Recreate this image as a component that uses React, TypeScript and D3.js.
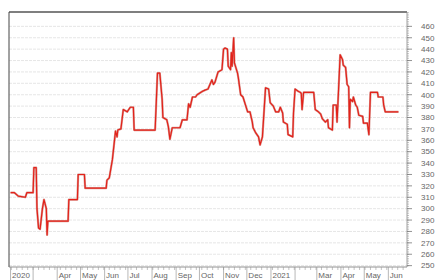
import React from "react";
import * as d3 from "d3";

const dates: string[] = [
  "2020-02-01","2020-02-06","2020-02-11","2020-02-20","2020-02-22","2020-03-01","2020-03-02","2020-03-05","2020-03-06","2020-03-08",
  "2020-03-10","2020-03-13","2020-03-15","2020-03-18","2020-03-19","2020-03-20","2020-04-15","2020-04-16","2020-04-27","2020-04-28",
  "2020-05-06","2020-05-07","2020-06-03","2020-06-04","2020-06-07","2020-06-11","2020-06-15","2020-06-17","2020-06-18","2020-06-22",
  "2020-06-25","2020-06-30","2020-07-04","2020-07-08","2020-07-09","2020-08-05","2020-08-08","2020-08-11","2020-08-14","2020-08-15",
  "2020-08-20","2020-08-22","2020-08-24","2020-08-27","2020-09-06","2020-09-09","2020-09-15","2020-09-17","2020-09-19","2020-09-22",
  "2020-09-26","2020-09-28","2020-10-05","2020-10-08","2020-10-12","2020-10-17","2020-10-19","2020-10-21","2020-10-25","2020-10-30",
  "2020-11-01","2020-11-03","2020-11-06","2020-11-07","2020-11-10","2020-11-11","2020-11-12","2020-11-14","2020-11-15","2020-11-19",
  "2020-11-20","2020-11-23","2020-11-26","2020-12-02","2020-12-05","2020-12-08","2020-12-09","2020-12-12","2020-12-16","2020-12-18",
  "2020-12-21","2020-12-25","2020-12-29","2020-12-31","2021-01-04","2021-01-07","2021-01-11","2021-01-13","2021-01-16","2021-01-17",
  "2021-01-22","2021-01-23","2021-01-29","2021-01-30","2021-02-01","2021-02-05","2021-02-08","2021-02-09","2021-02-10","2021-02-12",
  "2021-02-25","2021-02-27","2021-03-03","2021-03-06","2021-03-08","2021-03-12","2021-03-15","2021-03-16","2021-03-21","2021-03-22",
  "2021-03-26","2021-03-27","2021-03-29","2021-03-31","2021-04-03","2021-04-04","2021-04-07","2021-04-09","2021-04-11","2021-04-12",
  "2021-04-13","2021-04-16","2021-04-17","2021-04-20","2021-04-22","2021-04-24","2021-04-29","2021-04-30","2021-05-05","2021-05-07",
  "2021-05-09","2021-05-18","2021-05-19","2021-05-25","2021-05-26","2021-05-28","2021-06-14"
];

const values: number[] = [
  314,314,311,310,314,314,336,336,300,283,
  282,300,308,300,277,289,289,308,308,330,
  330,318,318,325,327,343,368,363,369,370,
  387,385,389,389,369,369,419,419,396,380,
  378,372,361,371,371,378,378,392,389,398,
  398,400,403,404,405,413,409,411,420,422,
  440,441,440,425,422,437,425,450,428,419,
  415,400,398,385,385,376,371,367,363,356,
  363,406,405,393,390,385,385,389,384,376,
  374,365,363,384,405,403,402,401,387,402,
  402,387,385,383,379,376,378,371,369,391,
  391,376,405,435,431,426,424,409,407,371,
  396,394,398,391,389,382,381,375,375,365,
  402,402,398,398,391,385,385
];

const monthTicks: string[] = [
  "2020-02-01","2020-03-01","2020-04-01","2020-05-01","2020-06-01","2020-07-01","2020-08-01","2020-09-01",
  "2020-10-01","2020-11-01","2020-12-01","2021-01-01","2021-02-01","2021-03-01","2021-04-01","2021-05-01","2021-06-01"
];
const monthLabels: string[] = [
  "2020","","Apr","May","Jun","Jul","Aug","Sep","Oct","Nov","Dec","2021","","Mar","Apr","May","Jun"
];
const yTicks: number[] = d3.range(250, 461, 10);

const W = 435, H = 280;
const L = 9, R = 407, T = 12, B = 267;

export default function App() {
  const parse = d3.timeParse("%Y-%m-%d");
  const x = d3.scaleTime()
    .domain([parse("2020-01-30")!, parse("2021-06-25")!])
    .range([L, R]);
  const y = d3.scaleLinear().domain([248.8, 472.6]).range([B, T]);
  const pts = dates.map((d, i) => [parse(d)!, values[i]] as [Date, number]);
  const line = d3.line<[Date, number]>().x(d => x(d[0])).y(d => y(d[1]));
  const weekTicks = d3.timeWeek.range(x.domain()[0], x.domain()[1]);
  const minorY = d3.range(250, 473, 2);
  const font = "'Liberation Sans', Arial, sans-serif";

  return (
    <svg width={W} height={H} style={{ position: "absolute", left: 0, top: 0, background: "#fff" }}>
      <rect x={0} y={0} width={W} height={H} fill="#fff" />
      {yTicks.map(t => (
        <line key={"g" + t} x1={L} x2={R} y1={y(t)} y2={y(t)} stroke="#e0e0e0" strokeWidth={0.8} strokeDasharray="3,1" />
      ))}
      <path d={line(pts) || ""} fill="none" stroke="#b83a2e" strokeWidth={2.2} strokeLinejoin="round" opacity={0.5} />
      <path d={line(pts) || ""} fill="none" stroke="#e3221a" strokeWidth={1.2} strokeLinejoin="round" />
      {/* frame */}
      <line x1={L} x2={R} y1={T} y2={T} stroke="#555" strokeWidth={1.6} />
      <line x1={L} x2={L} y1={T} y2={B} stroke="#444" strokeWidth={1} />
      <line x1={L} x2={R} y1={B} y2={B} stroke="#777" strokeWidth={0.8} />
      <line x1={R} x2={R} y1={T} y2={B} stroke="#888" strokeWidth={0.8} />
      {/* right axis */}
      {minorY.map(t => (
        <line key={"m" + t} x1={R} x2={R + 2} y1={y(t)} y2={y(t)} stroke="#999" strokeWidth={0.6} />
      ))}
      {yTicks.map(t => (
        <g key={"t" + t}>
          <line x1={R} x2={R + 5} y1={y(t)} y2={y(t)} stroke="#777" strokeWidth={0.8} />
          <text x={421} y={y(t)} dy="0.35em" fontSize={8} fill="#666" fontFamily={font}>{t}</text>
        </g>
      ))}
      {/* bottom axis */}
      {weekTicks.map((d, i) => (
        <line key={"w" + i} x1={x(d)} x2={x(d)} y1={B} y2={B + 3} stroke="#999" strokeWidth={0.6} />
      ))}
      {monthTicks.map((m, i) => {
        const xx = x(parse(m)!);
        return (
          <g key={"mt" + i}>
            <line x1={xx} x2={xx} y1={B} y2={H} stroke="#999" strokeWidth={0.7} />
            {monthLabels[i] && (
              <text x={xx + 1.5} y={278} fontSize={8} fill="#666" fontFamily={font}>{monthLabels[i]}</text>
            )}
          </g>
        );
      })}
    </svg>
  );
}
